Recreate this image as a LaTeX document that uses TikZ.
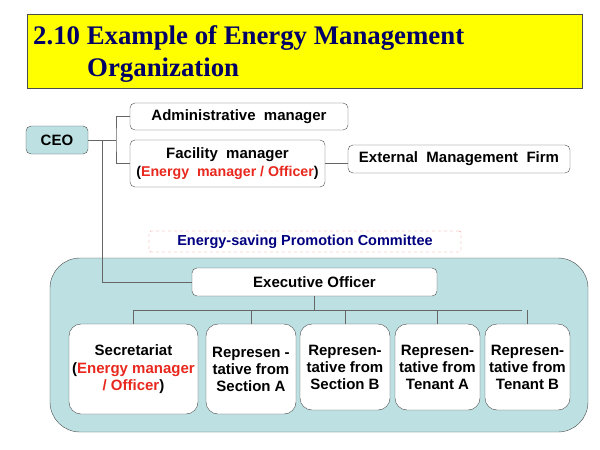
\documentclass[tikz,border=0pt]{standalone}
\usepackage{fontspec}
\setmainfont{Liberation Serif}
\newfontfamily\arial{Liberation Sans}
\begin{document}
\begin{tikzpicture}[x=1pt,y=-1pt,
 bx/.style={draw=black!70,rounded corners=5pt,fill=white,font=\arial\bfseries\fontsize{15}{17}\selectfont,align=center,inner sep=0pt},
 ln/.style={draw=black!60,line width=0.8pt}]
\definecolor{teal}{HTML}{BDE0E3}
\definecolor{ttl}{HTML}{FFFF00}
\definecolor{rd}{HTML}{E8281E}
\useasboundingbox (0,0) rectangle (600,450);
\fill[white] (0,0) rectangle (600,450);
\node[draw=black!70,fill=ttl,minimum width=555pt,minimum height=74pt,anchor=north west,inner sep=0pt] (title) at (27,14) {};
\node[anchor=west,font=\bfseries\fontsize{26.8}{30}\selectfont,inner sep=0pt] (t1) at (33,38) {\color{blue!40!black}2.10 Example of Energy Management};
\node[anchor=west,font=\bfseries\fontsize{26.8}{30}\selectfont,inner sep=0pt] (t2) at (87,70) {\color{blue!40!black}Organization};
\draw[draw=black!70,fill=teal,rounded corners=30pt] (50,258) rectangle (588,432);
\node[bx,fill=teal,minimum width=62pt,minimum height=28pt] (ceo) at (57,140) {CEO};
\node[bx,minimum width=218pt,minimum height=27pt] (adm) at (239,116.5) {Administrative\ \ manager};
\node[bx,minimum width=195pt,minimum height=47pt] (fac) at (227.5,163.5) {Facility\ \ manager\\[1pt]{\fontsize{14.2}{16}\selectfont(\textcolor{rd}{Energy\ \ manager / Officer})}};
\node[bx,minimum width=222pt,minimum height=28pt] (ext) at (459,159) {External\ \ Management\ \ Firm};
\node[draw=rd!60,dashed,rounded corners=2pt,minimum width=312pt,minimum height=21pt,inner sep=0pt,font=\arial\bfseries\fontsize{14.5}{16}\selectfont,text=blue!50!black] (com) at (305,241.5) {Energy-saving Promotion Committee};
\node[bx,minimum width=245pt,minimum height=28pt] (exe) at (314.5,282) {Executive Officer};
\node[bx,rounded corners=12pt,minimum width=129pt,minimum height=90pt] (sec) at (133.5,369) {Secretariat\\[1pt](\textcolor{rd}{Energy manager}\\\textcolor{rd}{/ Officer})};
\node[bx,rounded corners=12pt,minimum width=90pt,minimum height=90pt] (ra) at (251,369) {Represen -\\tative from\\Section A};
\node[bx,rounded corners=12pt,minimum width=90pt,minimum height=86pt] (rb) at (345,367) {Represen-\\tative from\\Section B};
\node[bx,rounded corners=12pt,minimum width=85pt,minimum height=86pt] (ta) at (437.5,367) {Represen-\\tative from\\Tenant A};
\node[bx,rounded corners=12pt,minimum width=85pt,minimum height=86pt] (tb) at (527.5,367) {Represen-\\tative from\\Tenant B};
\coordinate (j) at (116,140);
\draw[ln] (ceo.east) -- (j);
\draw[ln] (adm.west) -| (j) |- (fac.west);
\draw[ln] (fac.east) -- (ext.west |- fac.east);
\draw[ln] (102,140) |- (exe.west);
\coordinate (hb) at (314.5,310);
\draw[ln] (exe.south) -- (hb);
\draw[ln] (134,310) -- (522,310);
\foreach \n in {sec,ra,rb,ta,tb} \draw[ln] (\n.north) -- (\n.north |- hb);
\end{tikzpicture}
\end{document}
